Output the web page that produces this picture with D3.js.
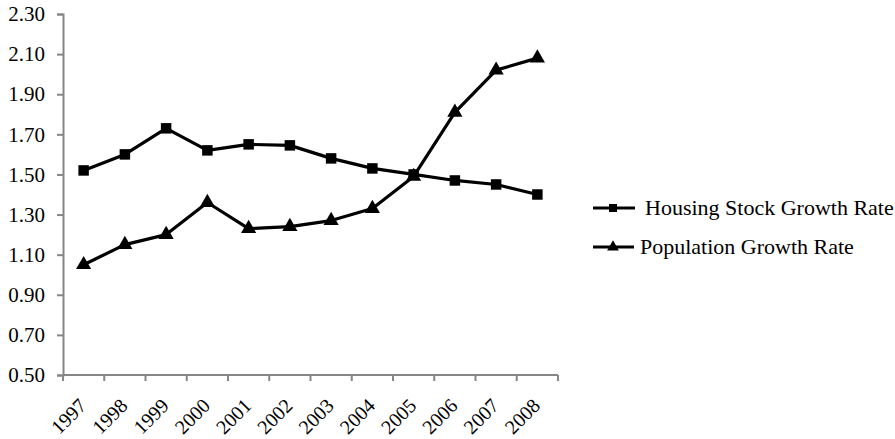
<!DOCTYPE html>
<html>
<head>
<meta charset="utf-8">
<script src="https://cdn.jsdelivr.net/npm/d3@7"></script>
<style>
  html, body { margin: 0; padding: 0; background: #fff; }
  text { font-family: "Liberation Serif", "Times New Roman", serif; fill: #000; }
</style>
</head>
<body>
<svg id="chart" width="895" height="439"></svg>
<script>
const years = ["1997","1998","1999","2000","2001","2002","2003","2004","2005","2006","2007","2008"];
const housing = [1.52, 1.60, 1.73, 1.62, 1.65, 1.645, 1.58, 1.53, 1.50, 1.47, 1.45, 1.40];
const population = [1.05, 1.15, 1.20, 1.36, 1.23, 1.24, 1.27, 1.33, 1.49, 1.81, 2.02, 2.08];
const yTicks = [0.5, 0.7, 0.9, 1.1, 1.3, 1.5, 1.7, 1.9, 2.1, 2.3];
const seriesNames = ["Housing Stock Growth Rate", "Population Growth Rate"];

const svg = d3.select("#chart");
const plotLeft = 63, plotRight = 558, plotTop = 14, plotBottom = 375;
const axisColor = "#868686";

const x = d3.scaleBand().domain(years).range([plotLeft, plotRight]).padding(0);
const y = d3.scaleLinear().domain([0.5, 2.3]).range([plotBottom, plotTop]);

// Y axis
const yAxis = d3.axisLeft(y).tickValues(yTicks).tickFormat(d3.format(".2f")).tickSize(6).tickPadding(12);
const gy = svg.append("g").attr("transform", `translate(${plotLeft},0)`).call(yAxis);
gy.select(".domain").attr("stroke", axisColor).attr("stroke-width", 2);
gy.selectAll(".tick line").attr("stroke", axisColor).attr("stroke-width", 2);
gy.selectAll(".tick text").style("font-family", "Liberation Serif").style("font-size", "21px").attr("fill", "#000");

// X axis with ticks on band boundaries
const gx = svg.append("g").attr("transform", `translate(0,${plotBottom})`);
gx.append("line").attr("x1", plotLeft).attr("x2", plotRight).attr("y1", 0).attr("y2", 0)
  .attr("stroke", axisColor).attr("stroke-width", 2);
const boundaries = years.map(d => x(d)).concat([x(years[years.length-1]) + x.bandwidth()]);
gx.selectAll("line.tk").data(boundaries).join("line").attr("class", "tk")
  .attr("x1", d => d).attr("x2", d => d).attr("y1", 0).attr("y2", 6)
  .attr("stroke", axisColor).attr("stroke-width", 2);
gx.selectAll("text.lbl").data(years).join("text").attr("class", "lbl")
  .attr("transform", d => `translate(${x(d) + x.bandwidth()/2 + 4},${32}) rotate(-45)`)
  .attr("text-anchor", "end")
  .style("font-size", "20px")
  .text(d => d);

const line = d3.line().x((d, i) => x(years[i]) + x.bandwidth()/2).y(d => y(d));

function drawSeries(data, shape) {
  svg.append("path").datum(data).attr("d", line)
    .attr("fill", "none").attr("stroke", "#000").attr("stroke-width", 3.2).attr("stroke-linejoin", "round");
  const sym = d3.symbol().type(shape).size(shape === d3.symbolSquare ? 110 : 100);
  svg.append("g").selectAll("path").data(data).join("path")
    .attr("d", sym)
    .attr("transform", (d, i) => `translate(${x(years[i]) + x.bandwidth()/2},${y(d)})`)
    .attr("fill", "#000");
}
drawSeries(housing, d3.symbolSquare);
drawSeries(population, d3.symbolTriangle);

// Legend
const legend = svg.append("g");
const legendRows = [
  {name: seriesNames[0], shape: d3.symbolSquare, size: 64, y: 208, x2: 635, tx: 645},
  {name: seriesNames[1], shape: d3.symbolTriangle, size: 60, y: 247, x2: 634, tx: 640}
];
legendRows.forEach(r => {
  legend.append("line").attr("x1", 593).attr("x2", r.x2).attr("y1", r.y).attr("y2", r.y)
    .attr("stroke", "#000").attr("stroke-width", 3.2);
  legend.append("path").attr("d", d3.symbol().type(r.shape).size(r.size))
    .attr("transform", `translate(613,${r.y})`).attr("fill", "#000");
  legend.append("text").attr("x", r.tx).attr("y", r.y + 7)
    .style("font-size", "22px").text(r.name);
});
</script>
</body>
</html>
